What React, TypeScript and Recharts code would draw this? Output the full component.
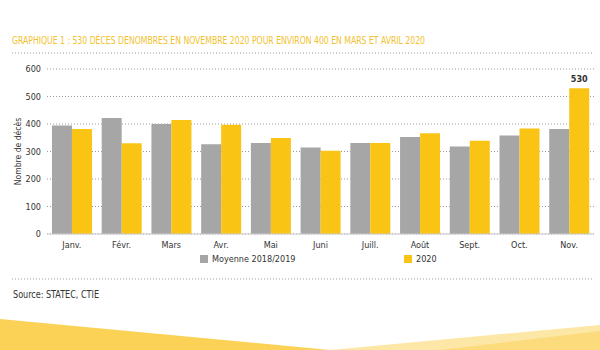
import { BarChart, Bar, XAxis, YAxis, CartesianGrid, LabelList } from 'recharts';

// Décès mensuels, Luxembourg
const months = ['Janv.', 'Févr.', 'Mars', 'Avr.', 'Mai', 'Juni', 'Juill.', 'Août', 'Sept.', 'Oct.', 'Nov.'];
const avg20182019 = [395, 422, 400, 326, 331, 315, 331, 353, 318, 358, 382];
const deaths2020 = [382, 330, 415, 397, 349, 303, 331, 366, 339, 384, 530];
const labels2020 = ['', '', '', '', '', '', '', '', '', '', '530'];
const yTicks = [0, 100, 200, 300, 400, 500, 600];

const GREY = '#A6A6A6';
const YELLOW = '#F9C414';
const FONT = "'DejaVu Sans Condensed', 'Liberation Sans Narrow', Roboto, sans-serif";

const data = months.map((m, i) => ({
  month: m,
  avg: avg20182019[i],
  y2020: deaths2020[i],
  label: labels2020[i],
}));

export default function App() {
  return (
    <div
      style={{
        position: 'absolute',
        left: 0,
        top: 0,
        width: 600,
        height: 350,
        background: '#fff',
        fontFamily: FONT,
        overflow: 'hidden',
      }}
    >
      {/* decoration + title + separators */}
      <svg width={600} height={350} style={{ position: 'absolute', left: 0, top: 0 }}>
        <text
          x={12}
          y={44}
          fontSize={10.5}
          fill="#F2C12E"
          fontFamily={FONT}
          textLength={413}
          lengthAdjust="spacingAndGlyphs"
        >
          GRAPHIQUE 1 : 530 DÉCES DENOMBRES EN NOVEMBRE 2020 POUR ENVIRON 400 EN MARS ET AVRIL 2020
        </text>
        <line x1={12} x2={592} y1={53} y2={53} stroke="#999" strokeDasharray="1 2" />
        <line x1={12} x2={592} y1={279} y2={279} stroke="#999" strokeDasharray="1 2" />
        <text x={13} y={298} fontSize={10} fill="#333" fontFamily={FONT} textLength={86} lengthAdjust="spacingAndGlyphs">
          Source: STATEC, CTIE
        </text>
        <polygon points="0,319 330,350 0,350" fill="#FBD256" />
        <polygon points="330,350 600,325 600,350" fill="#FDE7A6" />
        <polygon points="440,350 600,331 600,350" fill="#FCDB7C" />
      </svg>

      <BarChart
        width={600}
        height={350}
        data={data}
        margin={{ top: 69, right: 6, left: 0, bottom: 96 }}
        barCategoryGap="10%"
        barGap={0}
        style={{ position: 'absolute', left: 0, top: 0 }}
      >
        <CartesianGrid vertical={false} stroke="#999" strokeDasharray="1 2" />
        <XAxis
          dataKey="month"
          height={20}
          axisLine={{ stroke: '#cccccc' }}
          tickLine={false}
          tick={{ fontSize: 9, fill: '#333', fontFamily: FONT }}
          interval={0}
        />
        <YAxis
          width={47}
          domain={[0, 600]}
          ticks={yTicks}
          axisLine={false}
          tickLine={false}
          tickSize={4}
          tick={{ fontSize: 9, fill: '#333', fontFamily: FONT }}
          label={{
            value: 'Nombre de décès',
            angle: -90,
            position: 'insideLeft',
            offset: 18,
            style: { fontSize: 8.5, fill: '#333', fontFamily: FONT, textAnchor: 'middle' },
          }}
        />
        <Bar dataKey="avg" name="Moyenne 2018/2019" fill={GREY} isAnimationActive={false} />
        <Bar dataKey="y2020" name="2020" fill={YELLOW} isAnimationActive={false}>
          <LabelList
            dataKey="label"
            position="top"
            offset={6}
            style={{ fontSize: 9, fill: '#333', fontWeight: 'bold', fontFamily: FONT }}
          />
        </Bar>
      </BarChart>

      {/* legend */}
      <div style={{ position: 'absolute', left: 200, top: 254, display: 'flex', alignItems: 'center', fontSize: 9, color: '#333' }}>
        <span style={{ width: 8, height: 8, background: GREY, display: 'inline-block', marginRight: 4 }} />
        Moyenne 2018/2019
      </div>
      <div style={{ position: 'absolute', left: 404, top: 254, display: 'flex', alignItems: 'center', fontSize: 9, color: '#333' }}>
        <span style={{ width: 8, height: 8, background: YELLOW, display: 'inline-block', marginRight: 4 }} />
        2020
      </div>
    </div>
  );
}
